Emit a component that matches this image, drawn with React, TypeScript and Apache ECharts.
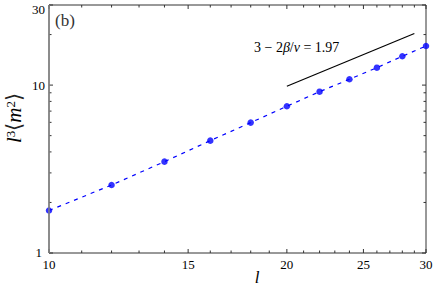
import React, { useEffect, useRef } from 'react';
import * as echarts from 'echarts';

const sizes = [10, 12, 14, 16, 18, 20, 22, 24, 26, 28, 30];
const values = [1.79, 2.54, 3.5, 4.67, 5.98, 7.48, 9.14, 10.83, 12.7, 14.85, 17.1];
const guideX = [20, 29];
const guideY = [9.85, 20.3];
const xMajorTicks = [10, 15, 20, 25, 30];
const xMinorTicks = [11, 12, 13, 14, 16, 17, 18, 19, 21, 22, 23, 24, 26, 27, 28, 29];
const yMajorTicks = [1, 10, 30];
const yMinorTicks = [2, 3, 4, 5, 6, 7, 8, 9, 20];

const SERIF = "'Liberation Serif', 'Times New Roman', serif";

export default function App() {
  const ref = useRef<HTMLDivElement>(null);
  useEffect(() => {
    if (!ref.current) return;
    const chart = echarts.init(ref.current, undefined, { renderer: 'svg' });
    const GL = 49, GR = 10, GT = 5, GB = 34;
    chart.setOption({
      animation: false,
      textStyle: { fontFamily: SERIF },
      grid: {
        left: GL, right: GR, top: GT, bottom: GB,
        show: true, borderColor: '#333', borderWidth: 1, backgroundColor: 'transparent',
      },
      xAxis: {
        type: 'log', logBase: 10, min: 10, max: 30,
        axisLine: { show: false }, axisTick: { show: false }, axisLabel: { show: false },
        splitLine: { show: false }, minorTick: { show: false },
      },
      yAxis: {
        type: 'log', logBase: 10, min: 1, max: 30,
        axisLine: { show: false }, axisTick: { show: false }, axisLabel: { show: false },
        splitLine: { show: false }, minorTick: { show: false },
      },
      series: [
        {
          type: 'line',
          data: sizes.map((x, i) => [x, values[i]]),
          symbol: 'none',
          lineStyle: { color: '#0000ff', width: 1.2, type: [4, 5] },
          z: 2,
        },
        {
          type: 'scatter',
          data: sizes.map((x, i) => [x, values[i]]),
          symbol: 'circle',
          symbolSize: 6.5,
          itemStyle: { color: '#0000ff' },
          z: 3,
        },
        {
          type: 'line',
          data: guideX.map((x, i) => [x, guideY[i]]),
          symbol: 'none',
          lineStyle: { color: '#000', width: 1.2 },
          z: 2,
        },
      ],
    });

    const W = 436, H = 287;
    const left = GL, right = W - GR, top = GT, bottom = H - GB;
    const px = (x: number) => chart.convertToPixel({ gridIndex: 0 }, [x, 1])[0];
    const py = (y: number) => chart.convertToPixel({ gridIndex: 0 }, [10, y])[1];
    const tickStyle = { stroke: '#333', lineWidth: 1 };
    const g: any[] = [];
    g.push({ type: 'line', shape: { x1: left, y1: top, x2: left, y2: bottom }, style: { stroke: '#888', lineWidth: 1.5 }, z: 10 });
    const addX = (v: number, len: number) => {
      const x = px(v);
      g.push({ type: 'line', shape: { x1: x, y1: bottom, x2: x, y2: bottom - len }, style: tickStyle });
      g.push({ type: 'line', shape: { x1: x, y1: top, x2: x, y2: top + len }, style: tickStyle });
    };
    const addY = (v: number, len: number) => {
      const y = py(v);
      g.push({ type: 'line', shape: { x1: left, y1: y, x2: left + len, y2: y }, style: tickStyle });
      g.push({ type: 'line', shape: { x1: right, y1: y, x2: right - len, y2: y }, style: tickStyle });
    };
    xMajorTicks.forEach((v) => addX(v, 4));
    xMinorTicks.forEach((v) => addX(v, 2.5));
    yMajorTicks.forEach((v) => addY(v, 4));
    yMinorTicks.forEach((v) => addY(v, 2.5));
    const txt = (size: number, italic = false) => ({
      fontFamily: SERIF, fontSize: size, fontStyle: italic ? 'italic' : 'normal', fill: '#000',
    });
    xMajorTicks.forEach((v) => {
      g.push({
        type: 'text', x: Math.min(px(v), W - 8), y: bottom + 5,
        style: { text: String(v), ...txt(13), align: 'center', verticalAlign: 'top' },
      });
    });
    yMajorTicks.forEach((v) => {
      const y = py(v);
      g.push({
        type: 'text', x: v === 1 ? left - 7 : left - 4, y: Math.min(Math.max(y, 9), bottom - 1),
        style: { text: String(v), ...txt(13), align: 'right', verticalAlign: 'middle' },
      });
    });
    g.push({
      type: 'text', x: 257, y: 277,
      style: { text: 'l', ...txt(17, true), align: 'center', verticalAlign: 'middle' },
    });
    g.push({
      type: 'text', x: 14, y: 118, rotation: Math.PI / 2,
      style: {
        text: '{i|l}{s|3}{n|⟨}{i|m}{s|2}{n|⟩}',
        align: 'center', verticalAlign: 'middle',
        rich: {
          i: txt(21, true),
          n: { ...txt(21), fill: '#222' },
          s: { ...txt(13), verticalAlign: 'top' },
        },
      },
    });
    g.push({
      type: 'text', x: 55, y: 20,
      style: { text: '(b)', ...txt(17), fill: '#333', align: 'left', verticalAlign: 'middle' },
    });
    g.push({
      type: 'text', x: 254, y: 47,
      style: {
        text: '{n|3 − 2}{i|β}{n|/}{i|ν}{n| = 1.97}',
        align: 'left', verticalAlign: 'middle',
        rich: {
          i: txt(14, true),
          n: txt(14),
        },
      },
    });
    chart.setOption({ graphic: g });
    return () => chart.dispose();
  }, []);
  return <div ref={ref} style={{ width: 436, height: 287, position: 'absolute', left: 0, top: 0 }} />;
}
